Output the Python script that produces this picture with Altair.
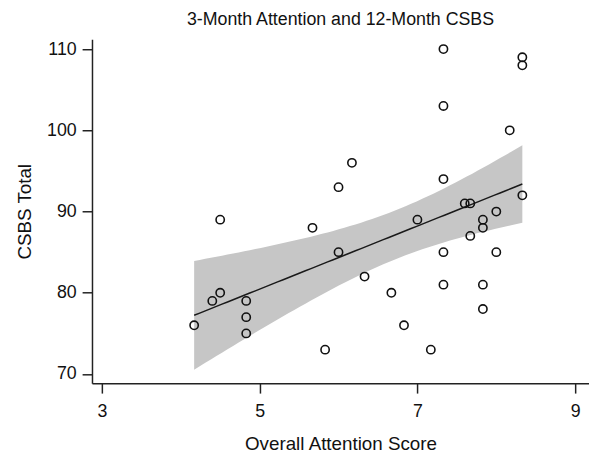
import altair as alt
import numpy as np
import pandas as pd

# Data
attention = [4.17, 4.40, 4.50, 4.50, 4.83, 4.83, 4.83, 5.67, 5.83, 6.00, 6.00, 6.17,
             6.33, 6.67, 6.83, 7.00, 7.17, 7.33, 7.33, 7.33, 7.33, 7.33, 7.60, 7.67,
             7.67, 7.83, 7.83, 7.83, 7.83, 8.00, 8.00, 8.17, 8.33, 8.33, 8.33]
csbs = [76, 79, 80, 89, 79, 77, 75, 88, 73, 93, 85, 96,
        82, 80, 76, 89, 73, 110, 103, 94, 85, 81, 91, 91,
        87, 89, 88, 81, 78, 90, 85, 100, 109, 108, 92]
x_ticks = [3, 5, 7, 9]
y_ticks = [70, 80, 90, 100, 110]

pts = pd.DataFrame({"x": attention, "y": csbs})

# Linear fit with 95% confidence interval of the mean (as in the original lfitci)
xa = np.array(attention, dtype=float)
ya = np.array(csbs, dtype=float)
n = len(xa)
xbar = xa.mean()
sxx = ((xa - xbar) ** 2).sum()
b = ((xa - xbar) * (ya - ya.mean())).sum() / sxx
a = ya.mean() - b * xbar
resid = ya - (a + b * xa)
s = np.sqrt((resid ** 2).sum() / (n - 2))
t_crit = 2.0345  # t(0.975, 33 df)
xg = np.linspace(xa.min(), xa.max(), 60)
fit = a + b * xg
se = s * np.sqrt(1.0 / n + (xg - xbar) ** 2 / sxx)
band = pd.DataFrame({"x": xg, "fit": fit, "lo": fit - t_crit * se, "hi": fit + t_crit * se})

font = "Liberation Sans"
xscale = alt.Scale(domain=[2.875, 9.175], nice=False, zero=False)
yscale = alt.Scale(domain=[68.87, 111.2], nice=False, zero=False)

xaxis = alt.Axis(values=x_ticks, title="Overall Attention Score", grid=False,
                 tickSize=10, labelPadding=10, titlePadding=14, format="d")
yaxis = alt.Axis(values=y_ticks, title="CSBS Total", grid=False,
                 tickSize=10, labelPadding=6, titlePadding=12, format="d")

area = alt.Chart(band).mark_area(color="#c6c6c6", opacity=1).encode(
    x=alt.X("x:Q", scale=xscale, axis=xaxis),
    y=alt.Y("lo:Q", scale=yscale, axis=yaxis),
    y2="hi:Q",
)
line = alt.Chart(band).mark_line(color="#1a1a1a", strokeWidth=1.5).encode(
    x=alt.X("x:Q", scale=xscale),
    y=alt.Y("fit:Q", scale=yscale),
)
points = alt.Chart(pts).mark_point(shape="circle", filled=False, color="#111111",
                                   size=70, strokeWidth=1.6, opacity=1).encode(
    x=alt.X("x:Q", scale=xscale),
    y=alt.Y("y:Q", scale=yscale),
)

chart = (area + line + points).properties(
    width=503,
    height=348,
    autosize=alt.AutoSizeParams(type="none"),
    padding={"left": 85, "top": 29, "right": 0, "bottom": 76},
    title=alt.Title("3-Month Attention and 12-Month CSBS", font=font, fontSize=18,
                    fontWeight="normal", color="#111111", offset=11),
).configure_view(stroke=None).configure_axis(
    labelFont=font, titleFont=font, labelFontSize=18, titleFontSize=19,
    labelColor="#111111", titleColor="#111111", titleFontWeight="normal",
    domainColor="#222222", tickColor="#222222", domainWidth=1.5, tickWidth=1.5,
).configure_axisY(labelAngle=0)

chart.save("out.html", embed_options={"renderer": "svg", "actions": False})
